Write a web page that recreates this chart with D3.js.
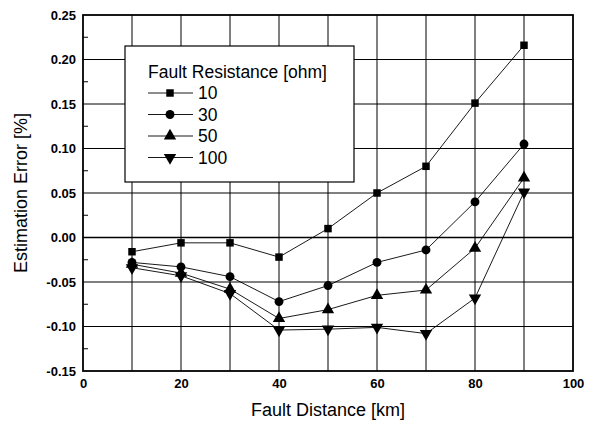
<!DOCTYPE html>
<html>
<head>
<meta charset="utf-8">
<script src="https://cdn.jsdelivr.net/npm/d3@7"></script>
<style>
  body { margin: 0; background: #fff; }
  text { font-family: "Liberation Sans", Arial, sans-serif; fill: #000; }
</style>
</head>
<body>
<div id="chart"></div>
<script>
// data
var distances = [10, 20, 30, 40, 50, 60, 70, 80, 90];
var resistances = ["10", "30", "50", "100"];
var err10  = [-0.016, -0.006, -0.006, -0.022, 0.010, 0.050, 0.080, 0.151, 0.216];
var err30  = [-0.028, -0.033, -0.044, -0.072, -0.054, -0.028, -0.014, 0.040, 0.105];
var err50  = [-0.030, -0.040, -0.058, -0.091, -0.081, -0.065, -0.059, -0.012, 0.067];
var err100 = [-0.034, -0.043, -0.063, -0.104, -0.103, -0.101, -0.108, -0.068, 0.051];
var xTicks = [0, 20, 40, 60, 80, 100];
var yTicks = [-0.15, -0.10, -0.05, 0.00, 0.05, 0.10, 0.15, 0.20, 0.25];

function whenDocumentLoaded(action) {
    if (document.readyState === "loading") {
        document.addEventListener("DOMContentLoaded", action);
    } else {
        action();
    }
}

function drawChart() {
    var width = 600, height = 423;
    var left = 83, right = 573, top = 15, bottom = 371;

    var svg = d3.select("#chart").append("svg")
        .attr("width", width)
        .attr("height", height);

    var x = d3.scaleLinear().domain([0, 100]).range([left, right]);
    var y = d3.scaleLinear().domain([-0.15, 0.25]).range([bottom, top]);

    // grid
    var grid = svg.append("g");
    grid.selectAll("line.v")
        .data(d3.range(10, 100, 10))
        .enter().append("line")
        .attr("x1", d => x(d)).attr("x2", d => x(d))
        .attr("y1", top).attr("y2", bottom)
        .style("stroke", "#000").style("stroke-width", 1);
    grid.selectAll("line.h")
        .data(yTicks.slice(1, -1))
        .enter().append("line")
        .attr("x1", left).attr("x2", right)
        .attr("y1", d => y(d)).attr("y2", d => y(d))
        .style("stroke", "#000").style("stroke-width", d => d === 0 ? 1.4 : 1);

    // minor ticks on the left axis
    svg.append("g").selectAll("line")
        .data(d3.range(-0.125, 0.25, 0.05))
        .enter().append("line")
        .attr("x1", left).attr("x2", left + 5)
        .attr("y1", d => y(d)).attr("y2", d => y(d))
        .style("stroke", "#000").style("stroke-width", 1);

    // frame
    svg.append("rect")
        .attr("x", left).attr("y", top)
        .attr("width", right - left).attr("height", bottom - top)
        .style("fill", "none").style("stroke", "#000").style("stroke-width", 1.8);

    // axes
    var xAxis = svg.append("g")
        .attr("transform", "translate(0," + bottom + ")")
        .call(d3.axisBottom(x).tickValues(xTicks).tickSize(0).tickPadding(8).tickFormat(d3.format("d")));
    var yAxis = svg.append("g")
        .attr("transform", "translate(" + left + ",0)")
        .call(d3.axisLeft(y).tickValues(yTicks).tickSize(0).tickPadding(7).tickFormat(d3.format(".2f")));
    [xAxis, yAxis].forEach(function(a) {
        a.select(".domain").remove();
        a.selectAll("text")
            .style("font-family", "Liberation Sans, Arial, sans-serif")
            .style("font-size", "13px")
            .style("font-weight", "bold")
            .style("fill", "#000");
    });
    yAxis.selectAll("text").text(d => d3.format(".2f")(d).replace("−", "-"));

    svg.append("text")
        .attr("x", 328).attr("y", 416)
        .attr("text-anchor", "middle")
        .style("font-size", "18px")
        .text("Fault Distance [km]");
    svg.append("text")
        .attr("transform", "translate(27,193) rotate(-90)")
        .attr("text-anchor", "middle")
        .style("font-size", "18px")
        .text("Estimation Error [%]");

    // series
    var seriesData = [err10, err30, err50, err100];
    var symbols = [
        d3.symbol().type(d3.symbolSquare).size(56),
        d3.symbol().type(d3.symbolCircle).size(62),
        d3.symbol().type(d3.symbolTriangle).size(66),
        d3.symbol().type(d3.symbolTriangle).size(66)
    ];
    var line = d3.line().x((d, i) => x(distances[i])).y(d => y(d));

    seriesData.forEach(function(vals, s) {
        svg.append("path")
            .datum(vals)
            .attr("d", line)
            .style("fill", "none")
            .style("stroke", "#000")
            .style("stroke-width", 0.9);
        svg.append("g").selectAll("path")
            .data(vals)
            .enter().append("path")
            .attr("d", symbols[s])
            .attr("transform", function(d, i) {
                var t = "translate(" + x(distances[i]) + "," + y(d) + ")";
                return s === 3 ? t + " rotate(180)" : t;
            })
            .style("fill", "#000");
    });

    // legend
    var lg = svg.append("g");
    lg.append("rect")
        .attr("x", 125).attr("y", 46)
        .attr("width", 229).attr("height", 136)
        .style("fill", "#fff").style("stroke", "#000").style("stroke-width", 1.2);
    lg.append("text")
        .attr("x", 148).attr("y", 78)
        .style("font-size", "17.5px")
        .text("Fault Resistance [ohm]");
    resistances.forEach(function(r, s) {
        var cy = 93 + s * 21.5;
        lg.append("line")
            .attr("x1", 148).attr("x2", 193)
            .attr("y1", cy).attr("y2", cy)
            .style("stroke", "#000").style("stroke-width", 0.9);
        lg.append("path")
            .attr("d", symbols[s])
            .attr("transform", "translate(170," + cy + ")" + (s === 3 ? " rotate(180)" : ""))
            .style("fill", "#000");
        lg.append("text")
            .attr("x", 198).attr("y", cy + 6)
            .style("font-size", "17.5px")
            .text(r);
    });
}

whenDocumentLoaded(drawChart);
</script>
</body>
</html>
